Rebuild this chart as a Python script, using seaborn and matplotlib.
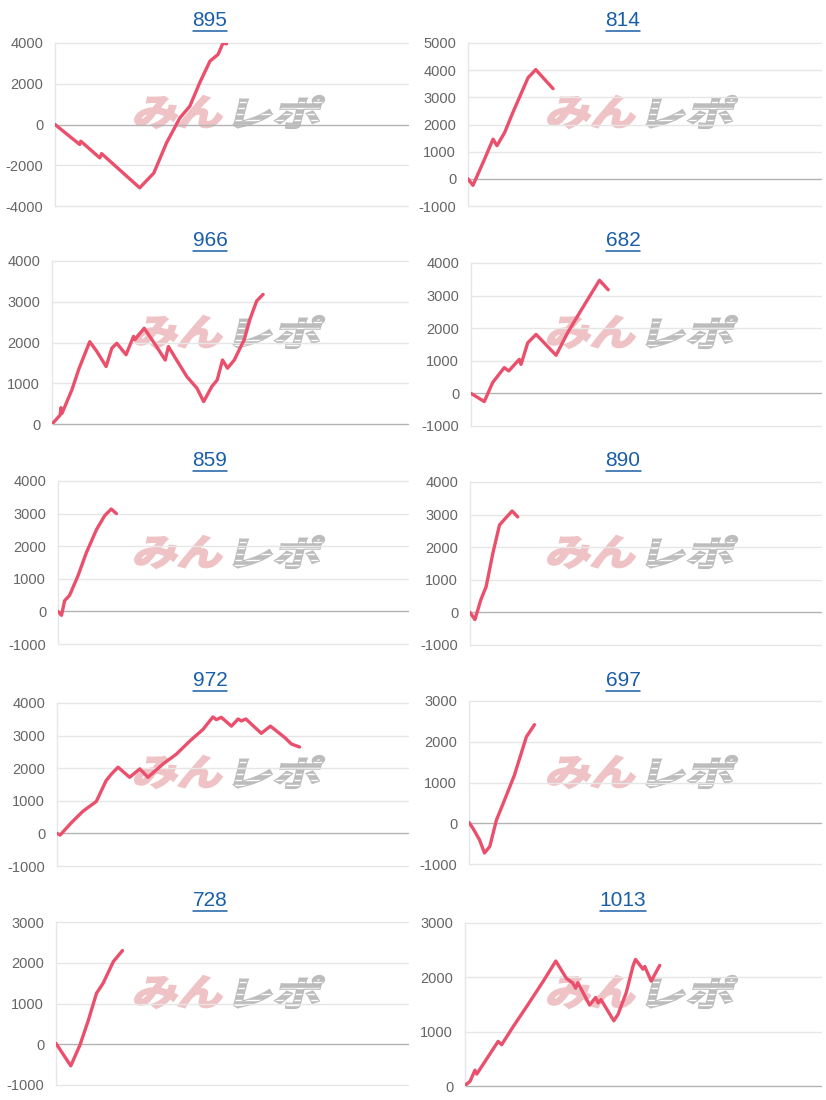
import matplotlib
matplotlib.use("Agg")
import matplotlib.pyplot as plt
import seaborn as sns
import pandas as pd
from matplotlib.textpath import TextPath
from matplotlib.font_manager import FontProperties
from matplotlib.patches import PathPatch
from matplotlib.transforms import Affine2D
from matplotlib.lines import Line2D

# ---- data (x = position along the run, 0-100; y = balance) ----
titles = ["895", "814", "966", "682", "859", "890", "972", "697", "728", "1013"]

x_895 = [0, 7, 7.3, 12.7, 13.2, 24, 28, 31.6, 35.4, 38.2, 41, 43.9, 46.2, 47.6, 48.6]
y_895 = [0, -980, -820, -1640, -1430, -3110, -2380, -900, 330, 900, 2050, 3110, 3440, 4000, 3960]

x_814 = [0, 1.4, 4.7, 7.1, 8.2, 10.4, 12.7, 17, 19.2, 21.7, 24.1]
y_814 = [0, -240, 730, 1460, 1220, 1710, 2440, 3720, 4020, 3660, 3320]

x_966 = [0, 2.3, 2.5, 2.8, 5.6, 7.5, 10.6, 12.6, 15.2, 16.8, 18.2, 20.8, 22.9, 23.3,
         25.9, 29, 31.8, 32.7, 35, 37.9, 40.7, 42.6, 44.9, 46.4, 47.9, 49.3, 51.2,
         54, 55.6, 57.5, 59.3]
y_966 = [0, 220, 400, 260, 840, 1340, 2020, 1780, 1410, 1860, 1980, 1700, 2150, 2070,
         2350, 1950, 1570, 1900, 1570, 1160, 880, 550, 920, 1080, 1570, 1370, 1570,
         2070, 2570, 3020, 3180]

x_682 = [0, 3.8, 6.2, 9.5, 10.8, 13.8, 14.3, 16.2, 18.6, 24.3, 27.6, 31, 36.7, 39.2]
y_682 = [0, -250, 335, 790, 690, 1045, 890, 1550, 1810, 1170, 1860, 2470, 3470, 3180]

x_859 = [0, 1, 1.9, 3.3, 5.7, 8.1, 11, 13.3, 15.2, 16.7]
y_859 = [0, -120, 330, 490, 1090, 1800, 2510, 2930, 3140, 3000]

x_890 = [0, 1.4, 3.1, 4.6, 6.5, 8.4, 9.8, 12, 13.6]
y_890 = [0, -220, 390, 790, 1810, 2680, 2850, 3110, 2930]

x_972 = [0, 0.9, 4.1, 7.4, 11.2, 14, 15.5, 17.4, 20.7, 23.6, 25.9, 30.2, 34, 37.9,
         41.6, 44.4, 45.4, 46.8, 49.7, 51.6, 52.5, 53.8, 58.2, 60.8, 64.9, 66.8, 69.1]
y_972 = [0, -50, 330, 680, 980, 1620, 1820, 2030, 1720, 1980, 1720, 2130, 2430, 2840,
         3190, 3570, 3490, 3560, 3290, 3510, 3450, 3510, 3070, 3290, 2940, 2740, 2650]

x_697 = [0, 1.1, 3, 4.4, 5.9, 7.8, 10.1, 12.9, 16.3, 18.6]
y_697 = [20, -120, -410, -730, -570, 80, 570, 1180, 2120, 2420]

x_728 = [0, 4.2, 6.8, 9.2, 11.5, 13.4, 16.3, 18.9]
y_728 = [20, -530, -20, 590, 1250, 1500, 2030, 2300]

x_1013 = [0, 1.4, 2.8, 3.3, 9.3, 10.3, 13.6, 17.3, 22, 25.5, 28.5, 30.2, 31.1, 31.7,
          35, 36.7, 37.4, 38.2, 41.8, 43, 45.3, 47.2, 47.9, 50, 50.5, 52.3, 54.7]
y_1013 = [10, 85, 290, 220, 820, 760, 1100, 1460, 1930, 2300, 1980, 1900, 1800, 1900,
          1490, 1630, 1530, 1590, 1200, 1320, 1720, 2210, 2330, 2150, 2200, 1930, 2220]

xs = [x_895, x_814, x_966, x_682, x_859, x_890, x_972, x_697, x_728, x_1013]
ys = [y_895, y_814, y_966, y_682, y_859, y_890, y_972, y_697, y_728, y_1013]

y_min = [-4000, -1000, 0, -1000, -1000, -1000, -1000, -1000, -1000, 0]
y_max = [4000, 5000, 4000, 4000, 4000, 4000, 4000, 3000, 3000, 3000]
y_step = [2000, 1000, 1000, 1000, 1000, 1000, 1000, 1000, 1000, 1000]

# ---- layout (pixels) ----
W, H = 826, 1100
PANEL_W, PANEL_H = 413, 220
ax_left = [55, 55, 52, 58, 58, 57, 57, 56, 56, 52]
ax_top = [43, 43, 41, 43, 41, 42, 43, 41, 42, 43]
AX_RIGHT = 408
AX_H = 163

LINE_COLOR = "#ea4f6c"
TITLE_COLOR = "#1a5ea8"

sns.set_style("white")
plt.rcParams["font.family"] = ["Liberation Sans", "DejaVu Sans"]

fig = plt.figure(figsize=(W / 100, H / 100), dpi=100)
fig.patch.set_facecolor("white")

jp_font = FontProperties(family="Noto Sans CJK JP", weight="bold")


def add_logo_part(text, x0, y0, w, h, color, stripes=False):
    # stylized watermark text, skewed, placed in figure pixels (y from top)
    tp = TextPath((0, 0), text, size=100, prop=jp_font)
    bb = tp.get_extents()
    skew = 14
    tr = (Affine2D().translate(-bb.x0, -bb.y0)
          .scale((w - h * 0.25) / bb.width, h / bb.height)
          .skew_deg(skew, 0)
          .translate(x0, H - y0 - h)
          .scale(1 / 100))
    patch = PathPatch(tr.transform_path(tp), facecolor=color, edgecolor=color,
                      lw=1.6, transform=fig.dpi_scale_trans, zorder=-1)
    fig.add_artist(patch)
    if stripes:
        for frac in [0.2, 0.38, 0.56, 0.74, 0.9]:
            yy = (H - y0 - h * frac) / H
            ln = Line2D([x0 / W, (x0 + w + 5) / W], [yy, yy], color="white", lw=1.0,
                        transform=fig.transFigure, zorder=-1)
            fig.add_artist(ln)
            ln.set_clip_path(patch)


title_texts = []
for i in range(10):
    row, col = divmod(i, 2)
    px = col * PANEL_W
    py = row * PANEL_H
    l = px + ax_left[i]
    r = px + AX_RIGHT
    t = py + ax_top[i]
    ax = fig.add_axes([l / W, 1 - (t + AX_H) / H, (r - l) / W, AX_H / H])
    ax.set_facecolor("none")

    # watermark behind the line
    add_logo_part("みん", px + 133, py + 96, 94, 32, "#efc3c5")
    add_logo_part("レポ", px + 233, py + 96, 92, 32, "#bcbcbc", stripes=True)

    df = pd.DataFrame({"x": xs[i], "y": ys[i]})
    sns.lineplot(data=df, x="x", y="y", ax=ax, color=LINE_COLOR, lw=2.4,
                 solid_joinstyle="round", solid_capstyle="round", zorder=3)

    ticks = list(range(y_min[i], y_max[i] + 1, y_step[i]))
    ax.set_xlim(0, 100)
    ax.set_ylim(y_min[i], y_max[i])
    ax.set_yticks(ticks)
    ax.set_yticklabels([str(v) for v in ticks])
    ax.set_xticks([])
    ax.set_xlabel("")
    ax.set_ylabel("")
    for v in ticks:
        ax.axhline(v, color="#b3b3b3" if v == 0 else "#e6e6e6", lw=1, zorder=1,
                   clip_on=False)
    for s in ["top", "right", "bottom"]:
        ax.spines[s].set_visible(False)
    ax.spines["left"].set_color("#e6e6e6")
    ax.spines["left"].set_linewidth(1)
    ax.tick_params(axis="y", left=False, labelsize=10.5, labelcolor="#666666", pad=5)

    tt = fig.text((px + 210) / W, 1 - (py + 20) / H, titles[i], ha="center",
                  va="center", fontsize=15, color=TITLE_COLOR)
    title_texts.append(tt)

# underline the titles like links
fig.canvas.draw()
renderer = fig.canvas.get_renderer()
for tt in title_texts:
    bb = tt.get_window_extent(renderer)
    yy = (bb.y0 - 1.0) / H
    fig.add_artist(Line2D([bb.x0 / W, bb.x1 / W], [yy, yy], color=TITLE_COLOR,
                          lw=1.1, transform=fig.transFigure))

fig.savefig("out.png", dpi=100, facecolor="white")
